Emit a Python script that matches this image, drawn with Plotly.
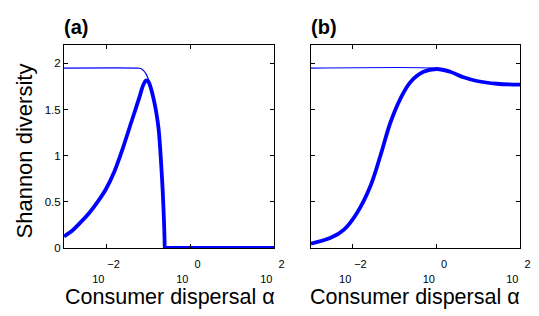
import plotly.graph_objects as go

# Panel (a): thick curve (log10 alpha, diversity)
a_thick_log = [-3.0, -2.8, -2.6, -2.4, -2.2, -2.0, -1.8, -1.6, -1.4, -1.3, -1.2, -1.15, -1.1,
               -1.05, -1.0, -0.95, -0.90, -0.85, -0.80, -0.75, -0.71, -0.68, -0.65, -0.62,
               -0.605, -0.60, -0.59, -0.5, 2.0]
a_thick_val = [0.125, 0.19, 0.28, 0.38, 0.50, 0.64, 0.83, 1.08, 1.36, 1.50, 1.64, 1.72, 1.78,
               1.815, 1.81, 1.76, 1.68, 1.58, 1.46, 1.30, 1.08, 0.86, 0.62, 0.30,
               0.08, 0.0, 0.0, 0.0, 0.0]
# Panel (a): thin curve
a_thin_log = [-3.0, -1.25, -1.2, -1.15, -1.1, -1.05, -1.0, -0.95]
a_thin_val = [1.95, 1.95, 1.948, 1.94, 1.92, 1.89, 1.84, 1.76]

# Panel (b): thick curve
b_thick_log = [-3.0, -2.53, -2.21, -1.9, -1.58, -1.34, -1.1, -0.86, -0.62, -0.31,
               0.01, 0.33, 0.65, 0.97, 1.45, 2.0]
b_thick_val = [0.047, 0.11, 0.20, 0.38, 0.67, 1.0, 1.36, 1.62, 1.80, 1.91,
               1.94, 1.91, 1.85, 1.81, 1.78, 1.77]
# Panel (b): thin curve
b_thin_log = [-3.0, -0.1, 0.0]
b_thin_val = [1.95, 1.95, 1.94]

x_tick_exps = [-2, 0, 2]
y_ticks = [0, 0.5, 1, 1.5, 2]
y_tick_text = ["0", "0.5", "1", "1.5", "2"]
panel_labels = ["(a)", "(b)"]
x_title = "Consumer dispersal α"
y_title = "Shannon diversity"

BLUE = "#0000FF"
FONT = "Liberation Sans, Arial, Helvetica, sans-serif"

fig = go.Figure()

def add(xlog, vals, width, xa, ya, smooth):
    fig.add_trace(go.Scatter(x=[10 ** v for v in xlog], y=vals, mode="lines",
                             line=dict(color=BLUE, width=width, shape="spline", smoothing=smooth),
                             xaxis=xa, yaxis=ya, showlegend=False, hoverinfo="skip",
                             cliponaxis=True))

add(a_thin_log, a_thin_val, 1.2, "x", "y", 0.8)
add(a_thick_log, a_thick_val, 3.8, "x", "y", 0.6)
add(b_thin_log, b_thin_val, 1.2, "x2", "y2", 0.8)
add(b_thick_log, b_thick_val, 3.8, "x2", "y2", 1.0)

NB = "\u00a0"
def power_label(e):
    exp = str(e).replace("-", "\u2212")
    return NB * 5 + exp + "<br>10" + NB * 5

tick_text = [power_label(e) for e in x_tick_exps]
tick_vals = [10 ** e for e in x_tick_exps]

xcommon = dict(type="log", range=[-3, 2], tickvals=tick_vals, ticktext=tick_text,
               ticks="inside", ticklen=4, tickcolor="black", showline=True, linecolor="black",
               linewidth=1, mirror="ticks", showgrid=False, zeroline=False, automargin=False,
               tickfont=dict(family=FONT, size=11, color="black"), ticklabelstandoff=6)
ycommon = dict(range=[0, 2.2], tickvals=y_ticks, ticktext=y_tick_text, ticks="inside", ticklen=4,
               tickcolor="black", showline=True, linecolor="black", linewidth=1, mirror="ticks",
               showgrid=False, zeroline=False, automargin=False,
               tickfont=dict(family=FONT, size=11.5, color="black"))

fig.update_layout(
    width=539, height=316, margin=dict(l=0, r=0, t=0, b=0),
    paper_bgcolor="white", plot_bgcolor="white",
    xaxis=dict(domain=[64 / 539, 274 / 539], anchor="y", **xcommon),
    xaxis2=dict(domain=[311 / 539, 520 / 539], anchor="y2", **xcommon),
    yaxis=dict(domain=[68 / 316, 271 / 316], anchor="x", **ycommon),
    yaxis2=dict(domain=[68 / 316, 271 / 316], anchor="x2", showticklabels=False, **ycommon),
    font=dict(family=FONT, color="black"),
)

ann = []
ann.append(dict(text=y_title, x=23.5 / 539, y=1 - 151 / 316, xref="paper", yref="paper",
                textangle=-90, showarrow=False, font=dict(size=22, family=FONT, color="black"),
                xanchor="center", yanchor="middle"))
for cx in [170, 415]:
    ann.append(dict(text=x_title, x=cx / 539, y=1 - 297 / 316, xref="paper", yref="paper",
                    showarrow=False, font=dict(size=21.5, family=FONT, color="black"),
                    xanchor="center", yanchor="middle"))
for lbl, lx in zip(panel_labels, [62, 309]):
    ann.append(dict(text="<b>%s</b>" % lbl, x=lx / 539, y=1 - 27 / 316, xref="paper", yref="paper",
                    showarrow=False, font=dict(size=20, family=FONT, color="black"),
                    xanchor="left", yanchor="middle"))
fig.update_layout(annotations=ann)

fig.write_html("out.html", config={"displayModeBar": False},
               post_script="document.body.style.margin='0';document.body.style.padding='0';")
